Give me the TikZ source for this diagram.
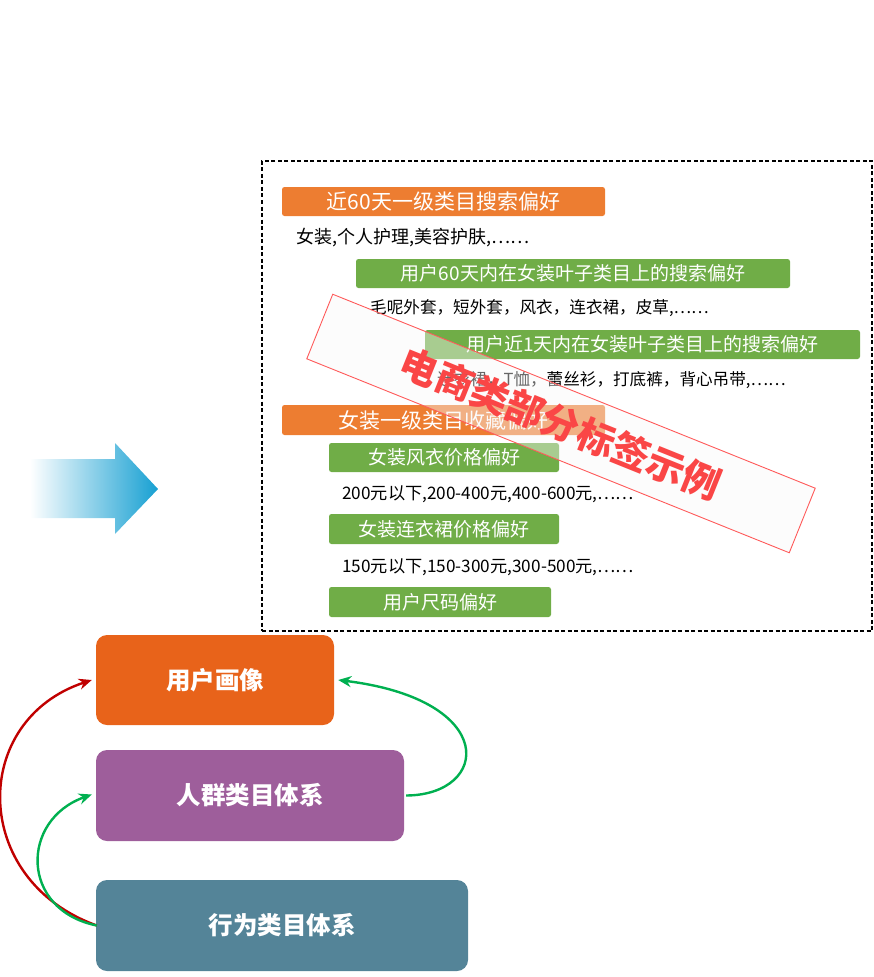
\documentclass[tikz,border=0pt]{standalone}
\usepackage{fontspec}
\setmainfont{Noto Sans CJK SC}
\usetikzlibrary{arrows.meta}
\definecolor{barorange}{HTML}{ED7D31}
\definecolor{bargreen}{HTML}{70AD47}
\definecolor{upcol}{HTML}{E8631A}
\definecolor{crowdcol}{HTML}{9E5E9B}
\definecolor{behcol}{HTML}{548498}
\definecolor{redarrow}{HTML}{C00000}
\definecolor{greenarrow}{HTML}{00B050}
\definecolor{stampred}{HTML}{FF5A5A}
\definecolor{stamptext}{HTML}{FA4646}
\definecolor{flowblue}{HTML}{17A0D2}
\tikzset{
  obar/.style={fill=barorange, rounded corners=2.5pt, text=white, font=\fontsize{21pt}{21pt}\selectfont, inner sep=0pt},
  gbar/.style={fill=bargreen, rounded corners=2.5pt, text=white, font=\fontsize{19pt}{19pt}\selectfont, inner sep=0pt},
  note/.style={anchor=west, inner sep=0pt, text=black, font=\fontsize{16.6pt}{16.6pt}\selectfont},
  bigbox/.style={rounded corners=11pt, text=white, font=\bfseries\fontsize{24.5pt}{24.5pt}\selectfont, inner sep=0pt},
  link/.style={line width=2.4pt, -{Stealth[length=13pt,width=11pt]}},
}
\begin{document}
\begin{tikzpicture}[x=1pt,y=-1pt]
\useasboundingbox (0,0) rectangle (873,977);

% framed tag panel
\node[draw=black, line width=1.5pt, dash pattern=on 4pt off 2.5pt, minimum width=610pt, minimum height=470pt, inner sep=0pt] (panel) at (567,396) {};

\node[obar, minimum width=323pt, minimum height=29pt] (s1) at (443.5,201.5) {近60天一级类目搜索偏好};
\node[note, font=\fontsize{18pt}{18pt}\selectfont] (t1) at (296,238) {女装,个人护理,美容护肤,……};
\node[gbar, minimum width=434pt, minimum height=29pt] (s2) at (573,273.5) {用户60天内在女装叶子类目上的搜索偏好};
\node[note] (t2) at (370,308) {毛呢外套，短外套，风衣，连衣裙，皮草,……};
\node[gbar, minimum width=435pt, minimum height=29pt] (s3) at (642.5,344.5) {用户近1天内在女装叶子类目上的搜索偏好};
\node[note] (t3) at (437,380) {连衣裙，T恤，蕾丝衫，打底裤，背心吊带,……};
\node[obar, minimum width=323pt, minimum height=30pt] (s4) at (443.5,420) {女装一级类目收藏偏好};
\node[gbar, minimum width=230pt, minimum height=29pt] (s5) at (444,457.5) {女装风衣价格偏好};
\node[note, font=\fontsize{17.2pt}{17.2pt}\selectfont] (t5) at (342,494) {200元以下,200-400元,400-600元,……};
\node[gbar, minimum width=230pt, minimum height=30pt] (s6) at (444,529) {女装连衣裙价格偏好};
\node[note, font=\fontsize{17.2pt}{17.2pt}\selectfont] (t6) at (342,567) {150元以下,150-300元,300-500元,……};
\node[gbar, minimum width=222pt, minimum height=30pt] (s7) at (440,602) {用户尺码偏好};

% translucent stamp laid over the panel
\node[draw=stampred, line width=0.9pt, fill=gray!6, fill opacity=0.42, text opacity=1,
      minimum width=520pt, minimum height=69.6pt, rotate=-21.9, inner sep=0pt,
      text=stamptext, font=\bfseries\fontsize{38pt}{38pt}\selectfont] (stamp) at (561,423.5) {电商类部分标签示例};

% big gradient arrow
\shade[left color=white, right color=flowblue]
  (30,459) -- (115,459) -- (115,443) -- (158,489) -- (115,534) -- (115,518) -- (30,518) -- cycle;

% category system boxes
\node[bigbox, fill=upcol, minimum width=238pt, minimum height=90pt] (up) at (215,680) {用户画像};
\node[bigbox, fill=crowdcol, minimum width=308pt, minimum height=91pt] (crowd) at (250,795.5) {人群类目体系};
\node[bigbox, fill=behcol, minimum width=372pt, minimum height=91pt] (beh) at (282,925.5) {行为类目体系};

% relations between the systems
\draw[link, redarrow] ([xshift=1pt]beh.west) .. controls (-30,880) and (-30,720) .. ([xshift=-4pt]up.west);
\draw[link, greenarrow] ([xshift=1pt]beh.west) .. controls (20,910) and (20,820) .. ([xshift=-4pt,yshift=1pt]crowd.west);
\draw[link, greenarrow] ([xshift=2pt]crowd.east) .. controls (490,795) and (500,700) .. ([xshift=4pt]up.east);
\end{tikzpicture}
\end{document}
